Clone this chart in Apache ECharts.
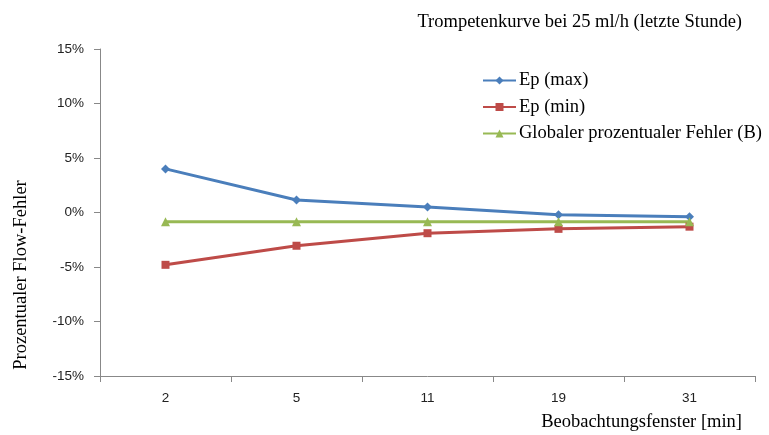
<!DOCTYPE html>
<html>
<head>
<meta charset="utf-8">
<script src="https://cdn.jsdelivr.net/npm/echarts@6/dist/echarts.min.js"></script>
<style>
  html, body { margin: 0; padding: 0; background: #fff; }
  #chart { width: 769px; height: 435px; }
</style>
</head>
<body>
<div id="chart"></div>
<script>
// Beobachtungsfenster [min]
const windows = ['2', '5', '11', '19', '31'];
// Prozentualer Flow-Fehler (%)
const epMax = [4.0, 1.15, 0.5, -0.2, -0.4];
const epMin = [-4.8, -3.05, -1.9, -1.5, -1.3];
const globalErr = [-0.85, -0.85, -0.85, -0.85, -0.85];

const serif = 'Liberation Serif, Times New Roman, serif';
const sans = 'Liberation Sans, Arial, sans-serif';

const chart = echarts.init(document.getElementById('chart'));

const option = {
  animation: false,
  title: {
    text: 'Trompetenkurve bei 25 ml/h (letzte Stunde)',
    right: 22,
    top: 8,
    textStyle: { fontFamily: serif, fontSize: 18.5, fontWeight: 'normal', color: '#000' },
  },
  legend: {
    orient: 'vertical',
    left: 477,
    top: 66,
    itemGap: 7.5,
    itemWidth: 33,
    itemHeight: 10,
    textStyle: { fontFamily: serif, fontSize: 18.5, color: '#000', padding: [0, 0, 0, -2] },
    data: ['Ep (max)', 'Ep (min)', 'Globaler prozentualer Fehler (B)'],
  },
  grid: {
    left: 100,
    right: 14,
    top: 49,
    bottom: 59,
  },
  graphic: [
    {
      type: 'text',
      x: 21,
      y: 275,
      rotation: Math.PI / 2,
      style: {
        text: 'Prozentualer Flow-Fehler',
        fontFamily: serif,
        fontSize: 18.5,
        fill: '#000',
        align: 'center',
        verticalAlign: 'middle',
      },
    },
  ],
  xAxis: {
    type: 'category',
    data: windows,
    boundaryGap: true,
    name: 'Beobachtungsfenster [min]',
    nameLocation: 'end',
    nameGap: 0,
    nameTextStyle: {
      fontFamily: serif,
      fontSize: 18.5,
      color: '#000',
      align: 'right',
      verticalAlign: 'top',
      padding: [37, 13, 0, 0],
    },
    axisLine: { onZero: false, lineStyle: { color: '#888', width: 1 } },
    axisTick: { show: true, alignWithLabel: false, length: 6, lineStyle: { color: '#888' } },
    axisLabel: { fontFamily: sans, fontSize: 13.5, color: '#222', margin: 15 },
    splitLine: { show: false },
  },
  yAxis: {
    type: 'value',
    min: -15,
    max: 15,
    interval: 5,
    axisLine: { show: true, lineStyle: { color: '#888', width: 1 } },
    axisTick: { show: true, length: 6, lineStyle: { color: '#888' } },
    axisLabel: {
      fontFamily: sans,
      fontSize: 13.5,
      color: '#222',
      margin: 16,
      formatter: function (v) { return v + '%'; },
    },
    splitLine: { show: false },
  },
  series: [
    {
      name: 'Ep (max)',
      type: 'line',
      data: epMax,
      color: '#4A7EBB',
      symbol: 'diamond',
      symbolSize: 9,
      lineStyle: { width: 3, color: '#4A7EBB' },
      itemStyle: { color: '#4A7EBB' },
    },
    {
      name: 'Ep (min)',
      type: 'line',
      data: epMin,
      color: '#BE4B48',
      symbol: 'rect',
      symbolSize: 8,
      lineStyle: { width: 3, color: '#BE4B48' },
      itemStyle: { color: '#BE4B48' },
    },
    {
      name: 'Globaler prozentualer Fehler (B)',
      type: 'line',
      data: globalErr,
      color: '#98B954',
      symbol: 'triangle',
      symbolSize: 9,
      lineStyle: { width: 3, color: '#98B954' },
      itemStyle: { color: '#98B954' },
    },
  ],
};

chart.setOption(option);
</script>
</body>
</html>
